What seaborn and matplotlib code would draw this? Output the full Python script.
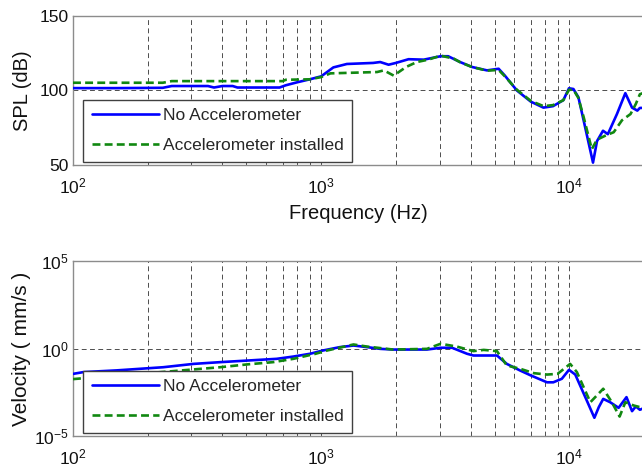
import numpy as np
import pandas as pd
import matplotlib
matplotlib.use("Agg")
import matplotlib.pyplot as plt
import seaborn as sns
from matplotlib.ticker import LogLocator, LogFormatterMathtext, NullFormatter, FixedLocator, NullLocator

# ---------------- data ----------------
series_names = ["No Accelerometer", "Accelerometer installed"]

# Top panel: SPL (dB)
spl_freq_no = [100, 150, 230, 250, 350, 370, 400, 440, 460, 680, 720, 800, 900, 1000,
               1120, 1270, 1620, 1730, 1870, 2000, 2250, 2590, 3030, 3250, 3630, 4050,
               4660, 5190, 5500, 6150, 7000, 7870, 8600, 9460, 9970, 10390, 10880, 11430,
               12460, 12930, 13670, 14300, 15560, 16820, 17900, 18800, 19250, 20000]
spl_no = [101.6, 101.6, 101.8, 103, 103, 102, 103, 103, 102, 102, 103.5, 105.5, 107.5, 109.5,
          115.5, 117.8, 118.5, 119.1, 117.3, 118.5, 121, 120.7, 123, 123, 119.1, 115.8,
          113.5, 114.6, 110, 100, 92.5, 88.5, 89.5, 93.5, 101.5, 101, 95.5, 79.7,
          51.6, 66, 73, 70.7, 84.2, 98.2, 88.5, 86.5, 88.3, 88.3]

spl_freq_acc = [100, 230, 250, 700, 720, 900, 1000, 1090, 1680, 1790, 1960, 2200, 2430, 2700,
                3030, 3420, 3630, 4050, 4660, 5190, 5500, 6150, 7000, 7870, 8600, 9460, 9970,
                10390, 10880, 11430, 12320, 12930, 14100, 15100, 16300, 17650, 18540, 19250, 20000]
spl_acc = [105.2, 105.2, 106.3, 106.3, 107.2, 107.5, 109, 111.5, 112.4, 113.5, 110, 115.8, 119.1, 120.7,
           123.4, 121.4, 119, 115.8, 113.3, 113.8, 109.5, 100.5, 93, 89.5, 90.2, 93.5, 100.5,
           100.5, 95, 82, 60.6, 67, 70, 72, 80, 84.2, 91, 97.5, 98.5]

# Bottom panel: velocity (mm/s)
vel_freq_no = [100, 110, 150, 231, 306, 392, 502, 662, 773, 903, 1020, 1190, 1350, 1530, 1730,
               1950, 2670, 3030, 3370, 3870, 4110, 5110, 5600, 6340, 7000, 8130, 8620, 9330,
               9970, 10570, 11600, 12620, 13150, 13700, 14610, 15800, 17000, 17900, 18540,
               19250, 20000]
vel_no = [0.0355, 0.0447, 0.0562, 0.0851, 0.132, 0.166, 0.204, 0.257, 0.347, 0.501, 0.776, 1.20,
          1.48, 1.20, 0.955, 0.871, 0.871, 1.10, 1.10, 0.501, 0.398, 0.398, 0.132, 0.0550,
          0.0288, 0.0117, 0.0117, 0.0186, 0.0603, 0.0324, 1.66e-3, 1.10e-4, 4.47e-4, 1.32e-3,
          8.51e-4, 4.07e-4, 1.66e-3, 2.63e-4, 4.90e-4, 3.16e-4, 3.98e-4]

vel_freq_acc = [100, 110, 150, 250, 392, 502, 640, 773, 950, 1060, 1350, 1530, 1950, 2670, 3030,
                3520, 4110, 4520, 5110, 5600, 6340, 7200, 8130, 8970, 10080, 10730, 12160, 13700,
                14840, 15950, 16820, 18200, 19250, 20000]
vel_acc = [0.0178, 0.0200, 0.0282, 0.0501, 0.0851, 0.123, 0.166, 0.257, 0.501, 0.776, 1.70, 1.29,
           0.871, 0.955, 1.86, 1.29, 0.708, 0.832, 0.708, 0.107, 0.0692, 0.0389, 0.0324, 0.0355,
           0.132, 0.0447, 8.51e-4, 5.01e-3, 8.51e-4, 1.29e-4, 8.51e-4, 5.50e-4, 4.47e-4, 5.01e-4]

x_ticks = [1e2, 1e3, 1e4]
spl_ticks = [50, 100, 150]
vel_ticks = [1e-5, 1e0, 1e5]

# ---------------- style ----------------
sns.set_style("white")
plt.rcParams["font.family"] = ["Liberation Sans", "DejaVu Sans"]
plt.rcParams["mathtext.default"] = "regular"

W, H = 642, 471
fig = plt.figure(figsize=(W / 100, H / 100), dpi=100)

def frac_axes(x0, y0, x1, y1):
    return fig.add_axes([x0 / W, 1 - y1 / H, (x1 - x0) / W, (y1 - y0) / H])

ax1 = frac_axes(73, 16, 644, 165)
ax2 = frac_axes(73, 261, 644, 436)

blue = "#0000FF"
green = "#118811"
grid_kw = dict(color="0.3", linewidth=0.7, linestyle=(0, (5, 3.5)))

def draw(ax, fx_no, y_no, fx_acc, y_acc):
    df_no = pd.DataFrame({"f": fx_no, "v": y_no})
    df_acc = pd.DataFrame({"f": fx_acc, "v": y_acc})
    sns.lineplot(data=df_no, x="f", y="v", ax=ax, color=blue, linewidth=1.9,
                 label=series_names[0], sort=False, zorder=3)
    sns.lineplot(data=df_acc, x="f", y="v", ax=ax, color=green, linewidth=1.9,
                 linestyle=(0, (3, 1.6)), label=series_names[1], sort=False, zorder=4)

draw(ax1, spl_freq_no, spl_no, spl_freq_acc, spl_acc)
draw(ax2, vel_freq_no, vel_no, vel_freq_acc, vel_acc)

for ax in (ax1, ax2):
    ax.set_xscale("log")
    ax.set_xlim(100, 20000)
    ax.xaxis.set_major_locator(FixedLocator(x_ticks))
    ax.xaxis.set_major_formatter(LogFormatterMathtext())
    ax.xaxis.set_minor_locator(LogLocator(base=10, subs=np.arange(2, 10)))
    ax.xaxis.set_minor_formatter(NullFormatter())
    ax.grid(True, which="both", axis="x", **grid_kw)
    ax.grid(True, which="major", axis="y", **grid_kw)
    for s in ax.spines.values():
        s.set_color("0.55")
        s.set_linewidth(1.0)
    ax.tick_params(axis="both", which="major", direction="in", length=4, color="0.45",
                   labelsize=12.5, labelcolor="#111111")
    ax.tick_params(axis="x", which="minor", direction="in", length=2.5, color="0.45")
    ax.tick_params(axis="x", which="major", pad=8)
    ax.tick_params(axis="y", which="major", pad=3)
    ax.set_axisbelow(True)

ax1.set_ylim(50, 150)
ax1.yaxis.set_major_locator(FixedLocator(spl_ticks))
ax1.set_xlabel("Frequency (Hz)", fontsize=14.5, color="#111111", labelpad=6)
ax1.set_ylabel("SPL (dB)", fontsize=14.5, color="#111111")
ax1.yaxis.set_label_coords(-0.072, 0.5)

ax2.set_yscale("log")
ax2.set_ylim(1e-5, 1e5)
ax2.yaxis.set_major_locator(FixedLocator(vel_ticks))
ax2.yaxis.set_major_formatter(LogFormatterMathtext())
ax2.yaxis.set_minor_locator(NullLocator())
ax2.set_xlabel("")
ax2.set_ylabel("Velocity ( mm/s )", fontsize=15, color="#111111")
ax2.yaxis.set_label_coords(-0.074, 0.5)

for ax in (ax1, ax2):
    h = ax.get_position().height * H
    leg = ax.legend(loc="lower left", bbox_to_anchor=(10 / 571, 3 / h), borderaxespad=0,
                    fontsize=12.5, frameon=True, fancybox=False, framealpha=1,
                    handlelength=3.9, handletextpad=0.2, labelspacing=0.85,
                    borderpad=0.5)
    leg.get_frame().set_edgecolor("0.25")
    leg.get_frame().set_linewidth(1.0)
    leg.set_zorder(10)

fig.savefig("out.png", dpi=100)
